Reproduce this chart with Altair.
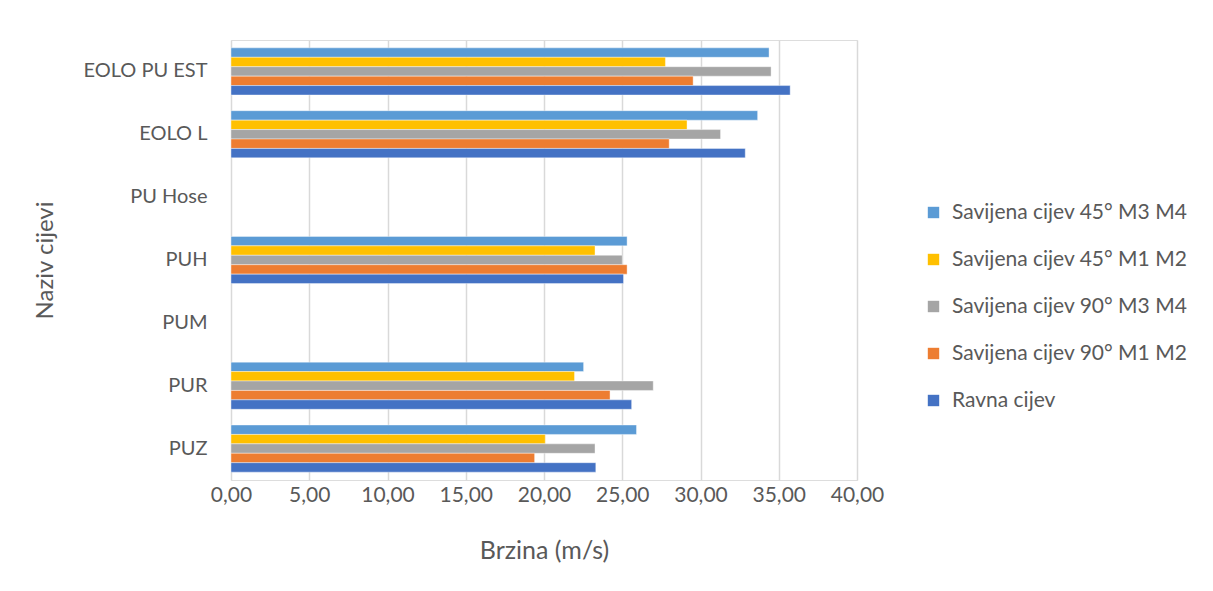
import altair as alt
import pandas as pd

categories = ["EOLO PU EST", "EOLO L", "PU Hose", "PUH", "PUM", "PUR", "PUZ"]
series = [
    "Savijena cijev 45° M3 M4",
    "Savijena cijev 45° M1 M2",
    "Savijena cijev 90° M3 M4",
    "Savijena cijev 90° M1 M2",
    "Ravna cijev",
]
colors = ["#5B9BD5", "#FFC000", "#A5A5A5", "#ED7D31", "#4472C4"]

s45_m3m4 = [34.38, 33.65, None, 25.31, None, 22.53, 25.91]
s45_m1m2 = [27.76, 29.14, None, 23.26, None, 21.95, 20.08]
s90_m3m4 = [34.51, 31.28, None, 25.00, None, 26.98, 23.26]
s90_m1m2 = [29.53, 28.00, None, 25.31, None, 24.22, 19.40]
ravna = [35.73, 32.86, None, 25.08, None, 25.60, 23.31]

values = [s45_m3m4, s45_m1m2, s90_m3m4, s90_m1m2, ravna]
rows = []
for s, vals in zip(series, values):
    for c, v in zip(categories, vals):
        if v is not None:
            rows.append({"Naziv": c, "Serija": s, "Brzina": v})
df = pd.DataFrame(rows)

FONT = "Lato"
TXT = "#595959"

chart = alt.Chart(df).mark_bar(stroke="white", strokeWidth=0.4).encode(
    x=alt.X(
        "Brzina:Q",
        scale=alt.Scale(domain=[0, 40], nice=False),
        axis=alt.Axis(
            values=[0, 5, 10, 15, 20, 25, 30, 35, 40],
            labelExpr="replace(format(datum.value, '.2f'), '.', ',')",
            title="Brzina (m/s)",
            domain=False,
            ticks=False,
            tickSize=0,
            labelPadding=4,
            labelFontSize=21,
            labelFlush=False,
            labelOverlap=False,
            labelColor=TXT,
            labelFont=FONT,
            titleFont=FONT,
            titleFontSize=25,
            titleFontWeight="normal",
            titleColor=TXT,
            titleX=313,
            titleY=70,
            titleAlign="center",
            titleBaseline="middle",
            grid=True,
            gridColor="#D9D9D9",
            gridWidth=1.5,
        ),
    ),
    y=alt.Y(
        "Naziv:N",
        scale=alt.Scale(domain=categories, paddingInner=0.25, paddingOuter=0.125),
        axis=alt.Axis(
            title="Naziv cijevi",
            domain=False,
            ticks=False,
            tickSize=0,
            labelPadding=24,
            labelFontSize=20,
            labelColor=TXT,
            labelFont=FONT,
            titleFont=FONT,
            titleFontSize=24,
            titleFontWeight="normal",
            titleColor=TXT,
            titleAngle=-90,
            titleX=-186,
            titleY=220,
            titleAlign="center",
            titleBaseline="middle",
        ),
    ),
    yOffset=alt.YOffset(
        "Serija:N",
        sort=series,
        scale=alt.Scale(domain=series, paddingInner=0, paddingOuter=0),
    ),
    color=alt.Color(
        "Serija:N",
        scale=alt.Scale(domain=series, range=colors),
        legend=alt.Legend(
            title=None,
            orient="none",
            legendX=692,
            legendY=162,
            symbolType="square",
            symbolSize=130,
            symbolStrokeWidth=0,
            labelFontSize=21,
            labelFont=FONT,
            labelColor=TXT,
            labelLimit=400,
            rowPadding=25,
            labelOffset=8,
        ),
    ),
).properties(
    width=626,
    height=440,
    autosize=alt.AutoSizeParams(type="none"),
    padding={"left": 223, "top": 32, "right": 348, "bottom": 100},
).configure_view(stroke=None).configure(background="white")

chart.save("out.html", embed_options={"renderer": "svg", "actions": False})
